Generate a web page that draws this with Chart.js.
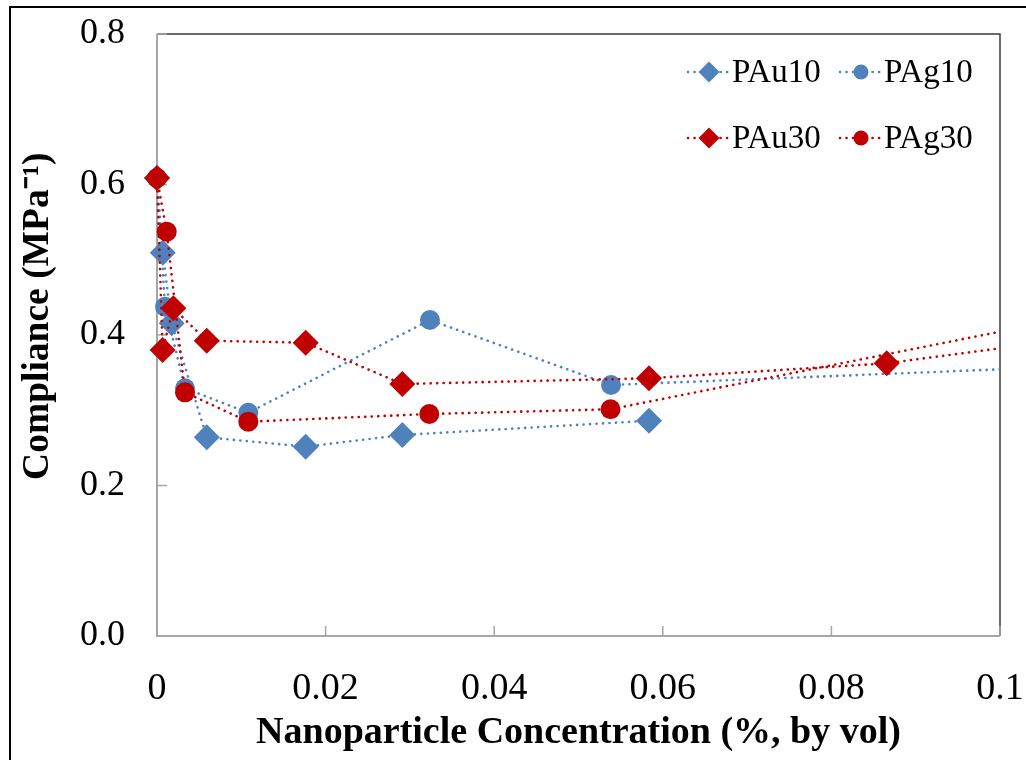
<!DOCTYPE html>
<html>
<head>
<meta charset="utf-8">
<script src="https://cdn.jsdelivr.net/npm/chart.js@4.4.0/dist/chart.umd.min.js"></script>
<style>
  html, body { margin: 0; padding: 0; background: #ffffff; }
  #wrap { width: 1026px; height: 760px; position: relative; }
</style>
</head>
<body>
<div id="wrap"><canvas id="c" width="1026" height="760"></canvas></div>
<script>
// ---- data ----
const seriesNames = ['PAu10', 'PAg10', 'PAu30', 'PAg30'];

const pau10X = [0, 0.00068, 0.00174, 0.0059, 0.01764, 0.0291, 0.05836];
const pau10Y = [0.6086, 0.5094, 0.4155, 0.2641, 0.2516, 0.2671, 0.2861];

const pag10X = [0, 0.00095, 0.00332, 0.01083, 0.03238, 0.05386, 0.11];
const pag10Y = [0.6086, 0.4376, 0.3292, 0.2967, 0.4199, 0.3336, 0.3589];

const pau30X = [0, 0.00067, 0.00194, 0.0059, 0.01764, 0.0291, 0.05836, 0.08656, 0.11];
const pau30Y = [0.6086, 0.3801, 0.4355, 0.3924, 0.3898, 0.3349, 0.3425, 0.3624, 0.3971];

const pag30X = [0, 0.00115, 0.00332, 0.01083, 0.0323, 0.0538, 0.11];
const pag30Y = [0.6086, 0.5373, 0.3238, 0.2848, 0.2950, 0.3013, 0.4267];

const xTickLabels = ['0', '0.02', '0.04', '0.06', '0.08', '0.1'];
const yTickLabels = ['0.0', '0.2', '0.4', '0.6', '0.8'];

const xTitle = 'Nanoparticle Concentration (%, by vol)';
const yTitle = '    Compliance (MPa\u207B\u00B9)';

// ---- styles ----
const BLUE = '#4F81BD';
const RED = '#C00000';

function pts(xs, ys) { return xs.map((x, i) => ({ x: x, y: ys[i] })); }

function ds(label, xs, ys, color, shape, radius, order) {
  return {
    label: label,
    data: pts(xs, ys),
    borderColor: color,
    backgroundColor: color,
    borderWidth: 2.6,
    borderDash: [0.1, 6.4],
    borderCapStyle: 'round',
    pointStyle: shape,
    pointRadius: radius,
    pointBorderWidth: 0,
    pointBackgroundColor: color,
    pointBorderColor: color,
    showLine: true,
    tension: 0,
    order: order,
    clip: { left: 30, top: 30, right: 0, bottom: 30 }
  };
}

const datasets = [
  ds(seriesNames[0], pau10X, pau10Y, BLUE, 'rectRot', 13, 4),
  ds(seriesNames[1], pag10X, pag10Y, BLUE, 'circle', 10, 3),
  ds(seriesNames[2], pau30X, pau30Y, RED, 'rectRot', 13, 2),
  ds(seriesNames[3], pag30X, pag30Y, RED, 'circle', 10, 1)
];

// frame, inner ticks and outer border
const framePlugin = {
  id: 'frame',
  beforeDatasetsDraw(chart) {
    const ctx = chart.ctx;
    const a = chart.chartArea;
    const xs = chart.scales.x, ys = chart.scales.y;
    ctx.save();
    ctx.strokeStyle = '#3a3a3a';
    ctx.lineWidth = 1.5;
    ctx.beginPath();
    ctx.moveTo(a.left, a.top); ctx.lineTo(a.right, a.top); ctx.lineTo(a.right, a.bottom);
    ctx.stroke();
    ctx.strokeStyle = '#a6a6a6';
    ctx.lineWidth = 2;
    ctx.beginPath();
    ctx.moveTo(a.left, a.top); ctx.lineTo(a.left, a.bottom); ctx.lineTo(a.right, a.bottom);
    ctx.stroke();
    ctx.lineWidth = 1.5;
    ctx.beginPath();
    xs.ticks.forEach(t => {
      const px = xs.getPixelForValue(t.value);
      ctx.moveTo(px, a.bottom); ctx.lineTo(px, a.bottom - 10);
    });
    ys.ticks.forEach(t => {
      const py = ys.getPixelForValue(t.value);
      ctx.moveTo(a.left, py); ctx.lineTo(a.left + 10, py);
    });
    ctx.stroke();
    ctx.restore();
  },
  beforeDraw(chart) {
    const ctx = chart.ctx;
    ctx.save();
    ctx.fillStyle = '#ffffff';
    ctx.fillRect(0, 0, chart.width, chart.height);
    ctx.strokeStyle = '#000000';
    ctx.lineWidth = 2;
    ctx.beginPath();
    ctx.moveTo(10, 760); ctx.lineTo(10, 7); ctx.lineTo(1026, 7);
    ctx.stroke();
    ctx.restore();
  }
};

// 2x2 legend inside the plot (top right)
const legendPlugin = {
  id: 'gridLegend',
  afterDraw(chart) {
    const ctx = chart.ctx;
    const colX = [688, 840];
    const rowY = [72, 138];
    ctx.save();
    chart.data.datasets.forEach((d, i) => {
      const x0 = colX[i % 2];
      const y = rowY[Math.floor(i / 2)];
      ctx.strokeStyle = d.borderColor;
      ctx.lineWidth = d.borderWidth;
      ctx.lineCap = 'round';
      ctx.setLineDash(d.borderDash);
      ctx.beginPath();
      ctx.moveTo(x0, y); ctx.lineTo(x0 + 42, y);
      ctx.stroke();
      ctx.setLineDash([]);
      ctx.fillStyle = d.backgroundColor;
      ctx.strokeStyle = d.borderColor;
      Chart.helpers.drawPoint(ctx, {
        pointStyle: d.pointStyle,
        rotation: 0,
        borderWidth: 0,
        radius: d.pointStyle === 'circle' ? 7.5 : 10.5
      }, x0 + 21, y);
      ctx.fillStyle = '#000000';
      ctx.font = '33px "Liberation Serif"';
      ctx.textBaseline = 'middle';
      ctx.textAlign = 'left';
      ctx.fillText(d.label, x0 + 44, y + 1);
    });
    ctx.restore();
  }
};

new Chart(document.getElementById('c'), {
  type: 'scatter',
  data: { datasets: datasets },
  options: {
    responsive: false,
    animation: false,
    events: [],
    layout: { padding: { top: 34, right: 26, bottom: 0, left: 0 } },
    plugins: {
      legend: { display: false },
      tooltip: { enabled: false },
      title: { display: false }
    },
    scales: {
      x: {
        type: 'linear',
        min: 0, max: 0.1,
        afterFit(s) { s.height = 124; s.paddingLeft = 0; s.paddingRight = 0; },
        grid: { display: false, drawTicks: false },
        border: { display: false },
        ticks: {
          stepSize: 0.02,
          padding: 30,
          color: '#000000',
          font: { family: 'Liberation Serif', size: 38 },
          maxRotation: 0,
          callback: (v, i) => xTickLabels[i]
        },
        title: {
          display: true,
          text: xTitle,
          color: '#000000',
          font: { family: 'Liberation Serif', size: 38, weight: 'bold' },
          padding: { top: 0, bottom: 4 }
        }
      },
      y: {
        type: 'linear',
        min: 0, max: 0.8,
        afterFit(s) { s.width = 157; s.paddingTop = 0; s.paddingBottom = 0; },
        grid: { display: false, drawTicks: false },
        border: { display: false },
        ticks: {
          stepSize: 0.2,
          padding: 32,
          color: '#000000',
          font: { family: 'Liberation Serif', size: 36 },
          callback: (v, i) => yTickLabels[i]
        },
        title: {
          display: true,
          text: yTitle,
          color: '#000000',
          font: { family: 'Liberation Serif', size: 37.5, weight: 'bold' },
          padding: { top: 16, bottom: 0 }
        }
      }
    }
  },
  plugins: [framePlugin, legendPlugin]
});
</script>
</body>
</html>
